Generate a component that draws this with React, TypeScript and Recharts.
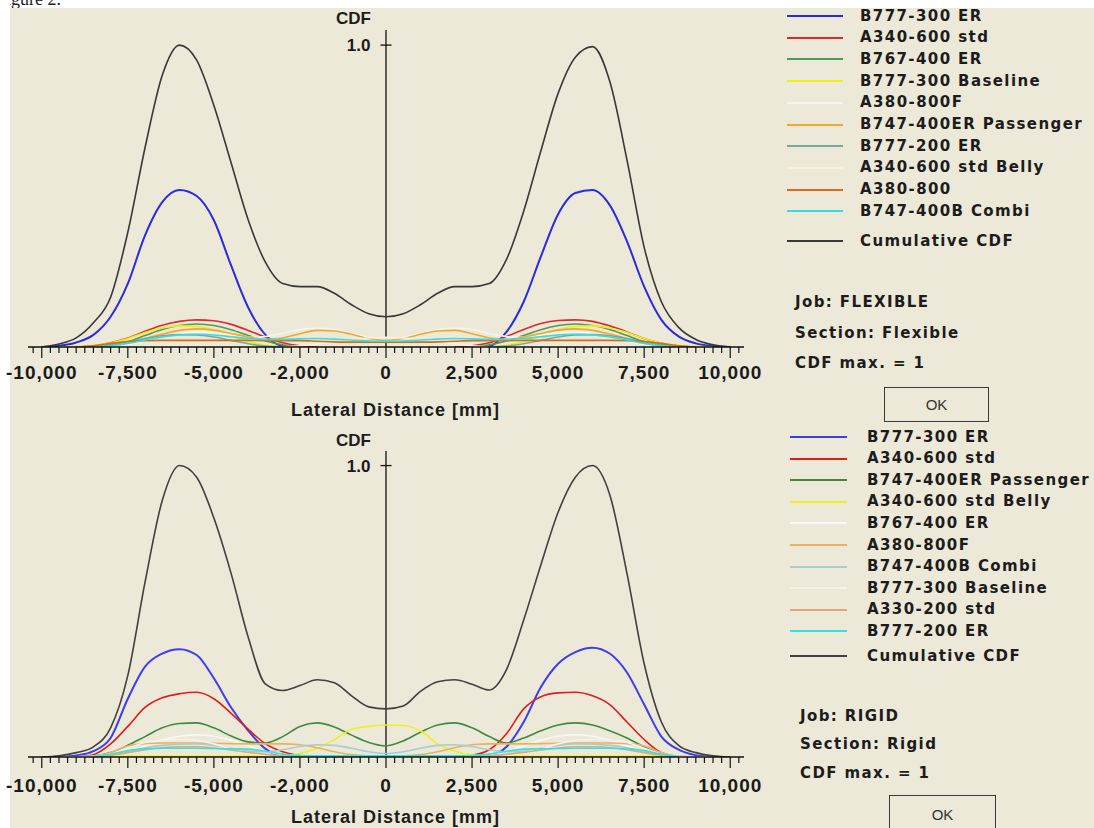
import React from 'react';
import { LineChart, Line, XAxis, YAxis, ReferenceLine } from 'recharts';

// ---------- shared axis data ----------
const distances = [
  -10000, -9500, -9000, -8500, -8000, -7500, -7000, -6500, -6000, -5500, -5000,
  -4500, -4000, -3500, -3000, -2500, -2000, -1500, -1000, -500, 0,
  500, 1000, 1500, 2000, 2500, 3000, 3500, 4000, 4500, 5000,
  5500, 6000, 6500, 7000, 7500, 8000, 8500, 9000, 9500, 10000,
];
const majorTickValues = [-10000, -7500, -5000, -2500, 0, 2500, 5000, 7500, 10000];
const majorTickLabels = ['-10,000', '-7,500', '-5,000', '-2,000', '0', '2,500', '5,000', '7,500', '10,000'];
const xDomain: [number, number] = [-10400, 10400];
const allTicks: number[] = [];
for (let t = -10250; t <= 10250; t += 250) allTicks.push(t);

// ---------- FLEXIBLE ----------
const flexNames = [
  'B777-300 ER', 'A340-600 std', 'B767-400 ER', 'B777-300 Baseline', 'A380-800F',
  'B747-400ER Passenger', 'B777-200 ER', 'A340-600 std Belly', 'A380-800', 'B747-400B Combi', 'Cumulative CDF',
];
const flexColors = [
  '#2a2ae0', '#e02828', '#4e9a5a', '#f0f010', '#f6f4ee',
  '#f0a830', '#7aa6a0', '#f8f0e4', '#d86a1c', '#30e0e0', '#383838',
];
const flexB777_300ER = [0, 0.004, 0.015, 0.04, 0.1, 0.21, 0.37, 0.48, 0.52, 0.5, 0.42, 0.27, 0.13, 0.04, 0.003, 0, null, null, null, null, null, null, null, null, null, 0, 0.003, 0.05, 0.15, 0.3, 0.44, 0.51, 0.52, 0.47, 0.35, 0.2, 0.09, 0.035, 0.012, 0.003, 0];
const flexA340_600std = [null, null, 0, 0.004, 0.014, 0.03, 0.052, 0.072, 0.085, 0.09, 0.087, 0.075, 0.055, 0.032, 0.014, 0.004, 0, null, null, null, null, null, null, null, 0, 0.004, 0.014, 0.035, 0.058, 0.078, 0.088, 0.09, 0.085, 0.07, 0.05, 0.028, 0.012, 0.003, 0, null, null];
const flexB767_400ER = [null, null, null, 0, 0.006, 0.018, 0.038, 0.058, 0.071, 0.076, 0.071, 0.057, 0.038, 0.02, 0.007, 0, null, null, null, null, null, null, null, null, null, 0, 0.007, 0.02, 0.038, 0.057, 0.071, 0.076, 0.071, 0.058, 0.038, 0.018, 0.006, 0, null, null, null];
const flexB777_300Baseline = [null, 0, 0.002, 0.005, 0.013, 0.028, 0.048, 0.063, 0.07, 0.068, 0.058, 0.038, 0.018, 0.006, 0, null, null, null, null, null, null, null, null, null, null, null, 0, 0.006, 0.018, 0.038, 0.058, 0.068, 0.07, 0.063, 0.048, 0.028, 0.013, 0.005, 0.002, 0, null];
const flexA380_800F = [null, null, null, null, 0, 0.008, 0.02, 0.035, 0.045, 0.05, 0.048, 0.04, 0.032, 0.035, 0.045, 0.058, 0.062, 0.058, 0.045, 0.032, 0.027, 0.032, 0.045, 0.058, 0.062, 0.058, 0.045, 0.035, 0.032, 0.04, 0.048, 0.05, 0.045, 0.035, 0.02, 0.008, 0, null, null, null, null];
const flexB747_400ERPassenger = [null, null, null, 0, 0.005, 0.014, 0.028, 0.043, 0.055, 0.06, 0.056, 0.045, 0.033, 0.025, 0.03, 0.044, 0.055, 0.053, 0.042, 0.028, 0.022, 0.028, 0.042, 0.053, 0.055, 0.044, 0.03, 0.025, 0.033, 0.045, 0.056, 0.06, 0.055, 0.043, 0.028, 0.014, 0.005, 0, null, null, null];
const flexB777_200ER = [null, null, 0, 0.002, 0.008, 0.017, 0.028, 0.037, 0.041, 0.04, 0.033, 0.022, 0.011, 0.003, 0, null, null, null, null, null, null, null, null, null, null, null, 0, 0.003, 0.011, 0.022, 0.033, 0.04, 0.041, 0.037, 0.028, 0.017, 0.008, 0.002, 0, null, null];
const flexA340_600Belly = [null, null, null, null, null, null, null, null, null, null, null, null, null, null, 0, 0.004, 0.01, 0.018, 0.025, 0.03, 0.032, 0.03, 0.025, 0.018, 0.01, 0.004, 0, null, null, null, null, null, null, null, null, null, null, null, null, null, null];
const flexA380_800 = [null, null, 0, 0.004, 0.012, 0.018, 0.021, 0.022, 0.022, 0.022, 0.022, 0.022, 0.022, 0.021, 0.021, 0.021, 0.019, 0.017, 0.016, 0.016, 0.016, 0.016, 0.016, 0.017, 0.019, 0.021, 0.021, 0.021, 0.022, 0.022, 0.022, 0.022, 0.022, 0.022, 0.021, 0.018, 0.012, 0.004, 0, null, null];
const flexB747_400BCombi = [null, null, null, 0, 0.004, 0.012, 0.023, 0.033, 0.04, 0.042, 0.04, 0.034, 0.028, 0.025, 0.025, 0.027, 0.028, 0.026, 0.023, 0.02, 0.019, 0.02, 0.023, 0.026, 0.028, 0.027, 0.025, 0.025, 0.028, 0.034, 0.04, 0.042, 0.04, 0.033, 0.023, 0.012, 0.004, 0, null, null, null];
const flexCumulative = [0, 0.01, 0.03, 0.08, 0.165, 0.38, 0.66, 0.9, 1.0, 0.95, 0.8, 0.61, 0.42, 0.28, 0.21, 0.2, 0.2, 0.178, 0.14, 0.11, 0.1, 0.11, 0.14, 0.178, 0.2, 0.2, 0.21, 0.29, 0.45, 0.65, 0.84, 0.96, 0.995, 0.88, 0.62, 0.33, 0.15, 0.065, 0.025, 0.007, 0];

// ---------- RIGID ----------
const rigidNames = [
  'B777-300 ER', 'A340-600 std', 'B747-400ER Passenger', 'A340-600 std Belly', 'B767-400 ER',
  'A380-800F', 'B747-400B Combi', 'B777-300 Baseline', 'A330-200 std', 'B777-200 ER', 'Cumulative CDF',
];
const rigidColors = [
  '#3c3cf0', '#e01c1c', '#3e8a3e', '#f0f020', '#f8f8f6',
  '#eeb060', '#a8ccd0', '#f6f2ea', '#e0a878', '#30e4e4', '#404040',
];
const rigidB777_300ER = [null, 0, 0.005, 0.02, 0.065, 0.2, 0.31, 0.355, 0.37, 0.35, 0.27, 0.17, 0.09, 0.028, 0.003, 0, null, null, null, null, null, null, null, null, null, 0, 0.004, 0.035, 0.12, 0.24, 0.32, 0.36, 0.375, 0.355, 0.29, 0.18, 0.07, 0.025, 0.006, 0, null];
const rigidA340_600std = [null, null, 0, 0.008, 0.045, 0.105, 0.17, 0.203, 0.217, 0.222, 0.2, 0.15, 0.095, 0.045, 0.018, 0.005, 0, null, null, null, null, null, null, null, 0, 0.006, 0.025, 0.08, 0.165, 0.207, 0.22, 0.222, 0.21, 0.18, 0.12, 0.06, 0.015, 0.002, 0, null, null];
const rigidB747_400ERPassenger = [null, null, 0, 0.003, 0.015, 0.04, 0.07, 0.1, 0.115, 0.117, 0.1, 0.072, 0.052, 0.048, 0.07, 0.105, 0.117, 0.103, 0.075, 0.05, 0.038, 0.055, 0.085, 0.11, 0.117, 0.1, 0.07, 0.048, 0.065, 0.09, 0.11, 0.117, 0.11, 0.09, 0.065, 0.035, 0.012, 0.002, 0, null, null];
const rigidA340_600Belly = [null, null, null, 0.003, 0.003, 0.003, 0.003, 0.003, 0.003, 0.003, 0.003, 0.003, 0.003, 0.003, 0.004, 0.012, 0.03, 0.06, 0.095, 0.105, 0.11, 0.108, 0.09, 0.045, 0.02, 0.008, 0.004, 0.003, 0.003, 0.003, 0.003, 0.003, 0.003, 0.003, 0.003, 0.003, 0.003, 0.003, null, null, null];
const rigidB767_400ER = [null, null, null, 0, 0.006, 0.018, 0.038, 0.058, 0.071, 0.076, 0.071, 0.057, 0.038, 0.02, 0.007, 0, null, null, null, null, null, null, null, null, null, 0, 0.007, 0.02, 0.038, 0.057, 0.071, 0.076, 0.071, 0.058, 0.038, 0.018, 0.006, 0, null, null, null];
const rigidA380_800F = [null, null, null, 0, 0.015, 0.038, 0.046, 0.048, 0.048, 0.048, 0.047, 0.046, 0.045, 0.045, 0.045, 0.042, 0.032, 0.018, 0.008, 0.004, 0.003, 0.004, 0.008, 0.018, 0.032, 0.042, 0.045, 0.045, 0.045, 0.046, 0.047, 0.048, 0.048, 0.048, 0.046, 0.038, 0.015, 0, null, null, null];
const rigidB747_400BCombi = [null, null, null, 0, 0.008, 0.02, 0.032, 0.04, 0.044, 0.045, 0.04, 0.03, 0.02, 0.018, 0.025, 0.036, 0.042, 0.04, 0.03, 0.018, 0.012, 0.018, 0.03, 0.04, 0.042, 0.036, 0.025, 0.018, 0.02, 0.03, 0.04, 0.045, 0.044, 0.04, 0.032, 0.02, 0.008, 0, null, null, null];
const rigidB777_300Baseline = [null, 0, 0.001, 0.003, 0.01, 0.03, 0.05, 0.057, 0.06, 0.057, 0.045, 0.028, 0.015, 0.005, 0, null, null, null, null, null, null, null, null, null, null, null, 0, 0.005, 0.015, 0.028, 0.045, 0.057, 0.06, 0.057, 0.05, 0.03, 0.01, 0.003, 0.001, 0, null];
const rigidA330_200std = [null, null, null, 0, 0.006, 0.015, 0.025, 0.032, 0.035, 0.035, 0.031, 0.024, 0.016, 0.009, 0.004, 0.002, 0.002, 0.002, 0.002, 0.002, 0.002, 0.002, 0.002, 0.002, 0.002, 0.002, 0.004, 0.009, 0.016, 0.024, 0.031, 0.035, 0.035, 0.032, 0.025, 0.015, 0.006, 0, null, null, null];
const rigidB777_200ER = [null, null, null, 0.002, 0.01, 0.022, 0.028, 0.03, 0.03, 0.03, 0.029, 0.028, 0.027, 0.02, 0.01, 0.005, 0.004, 0.004, 0.004, 0.004, 0.004, 0.004, 0.004, 0.004, 0.004, 0.005, 0.01, 0.02, 0.027, 0.028, 0.029, 0.03, 0.03, 0.03, 0.028, 0.022, 0.01, 0.002, null, null, null];
const rigidCumulative = [0, 0.004, 0.015, 0.035, 0.1, 0.28, 0.6, 0.88, 1.0, 0.96, 0.82, 0.63, 0.41, 0.25, 0.228, 0.245, 0.265, 0.255, 0.21, 0.172, 0.165, 0.175, 0.225, 0.258, 0.265, 0.25, 0.23, 0.3, 0.47, 0.66, 0.84, 0.96, 1.0, 0.9, 0.63, 0.32, 0.12, 0.04, 0.015, 0.004, 0];

const flexSeries = [
  flexB777_300ER, flexA340_600std, flexB767_400ER, flexB777_300Baseline, flexA380_800F,
  flexB747_400ERPassenger, flexB777_200ER, flexA340_600Belly, flexA380_800, flexB747_400BCombi, flexCumulative,
];
const rigidSeries = [
  rigidB777_300ER, rigidA340_600std, rigidB747_400ERPassenger, rigidA340_600Belly, rigidB767_400ER,
  rigidA380_800F, rigidB747_400BCombi, rigidB777_300Baseline, rigidA330_200std, rigidB777_200ER, rigidCumulative,
];

const FONT_TICK = '"Liberation Sans", Arial, sans-serif';
const FONT_UI = '"DejaVu Sans", Verdana, sans-serif';
const BG = '#ece9d8';

const buildRows = (series: (number | null)[][]) =>
  distances.map((d, i) => {
    const row: Record<string, number | null> = { x: d };
    series.forEach((arr, k) => {
      row['s' + k] = arr[i];
    });
    return row;
  });

function XTick(props: any) {
  const { x, y, payload, labelDy } = props;
  const v = payload ? (payload.value as number) : 0;
  const idx = majorTickValues.indexOf(v);
  const major = idx >= 0;
  return (
    <g>
      <line x1={x} x2={x} y1={y} y2={y + (major ? 11 : 6)} stroke="#111" strokeWidth={1.2} />
      {major && (
        <text
          x={x}
          y={y + labelDy}
          textAnchor="middle"
          fontFamily={FONT_TICK}
          fontWeight="bold"
          fontSize={19}
          letterSpacing={1}
          fill="#1a1a1a"
        >
          {majorTickLabels[idx]}
        </text>
      )}
    </g>
  );
}

function Txt(props: { x: number; y: number; size: number; family: string; bold?: boolean; spacing?: number; children: React.ReactNode; center?: boolean; w?: number }) {
  const { x, y, size, family, bold, spacing, children, center, w } = props;
  return (
    <div
      style={{
        position: 'absolute',
        left: x,
        top: y - size / 2,
        width: center ? w : undefined,
        textAlign: center ? 'center' : 'left',
        fontFamily: family,
        fontSize: size,
        lineHeight: `${size}px`,
        fontWeight: bold ? 'bold' : 'normal',
        letterSpacing: spacing ?? 0,
        color: '#1c1c1c',
        whiteSpace: 'nowrap',
      }}
    >
      {children}
    </div>
  );
}

function Legend(props: { names: string[]; colors: string[]; lineX: number; lineW: number; textX: number; y0: number; step: number; cumY: number }) {
  const { names, colors, lineX, lineW, textX, y0, step, cumY } = props;
  return (
    <>
      {names.map((n, i) => {
        const y = i === names.length - 1 ? cumY : y0 + i * step;
        return (
          <React.Fragment key={n + i}>
            <div style={{ position: 'absolute', left: lineX, top: y - 1, width: lineW, height: 2, background: colors[i] }} />
            <Txt x={textX} y={y} size={15} family={FONT_UI} bold spacing={1.4}>
              {n}
            </Txt>
          </React.Fragment>
        );
      })}
    </>
  );
}

function Chart(props: { top: number; series: (number | null)[][]; colors: string[]; plotTop: number; plotBottom: number; labelDy: number }) {
  const { top, series, colors, plotTop, plotBottom, labelDy } = props;
  const rows = buildRows(series);
  const H = 400;
  const W = 790;
  const xAxisH = 40;
  const order = series.map((_, k) => k);
  return (
    <div style={{ position: 'absolute', left: 0, top }}>
      <LineChart
        width={W}
        height={H}
        data={rows}
        margin={{ top: plotTop, right: W - 28 - 716, left: 28, bottom: H - plotBottom - xAxisH }}
      >
        <XAxis
          dataKey="x"
          type="number"
          domain={xDomain}
          allowDataOverflow
          ticks={allTicks}
          interval={0}
          tickLine={false}
          tickSize={0}
          tickMargin={0}
          height={xAxisH}
          axisLine={{ stroke: '#111', strokeWidth: 1.3 }}
          tick={(p: any) => <XTick {...p} labelDy={labelDy} />}
        />
        <YAxis hide type="number" domain={[0, 1.05]} allowDataOverflow />
        <ReferenceLine x={0} stroke="#111" strokeWidth={1.3} />
        <ReferenceLine
          segment={[{ x: -160, y: 1 }, { x: 160, y: 1 }]}
          stroke="#111"
          strokeWidth={1.3}
          label={{ value: '1.0', position: 'left', offset: 10, fill: '#1a1a1a', fontSize: 17, fontWeight: 'bold', fontFamily: FONT_TICK }}
        />
        {order.map((k) => (
          <Line
            key={k}
            type="monotone"
            dataKey={'s' + k}
            stroke={colors[k]}
            strokeWidth={k === 0 ? 2 : 1.6}
            dot={false}
            activeDot={false}
            connectNulls={false}
            isAnimationActive={false}
          />
        ))}
      </LineChart>
    </div>
  );
}

function OkButton(props: { x: number; y: number; w: number; h: number }) {
  const { x, y, w, h } = props;
  return (
    <div
      style={{
        position: 'absolute',
        left: x,
        top: y,
        width: w,
        height: h,
        boxSizing: 'border-box',
        border: '1.5px solid #3a3a3a',
        background: BG,
        display: 'flex',
        alignItems: 'center',
        justifyContent: 'center',
        fontFamily: FONT_TICK,
        fontSize: 15,
        color: '#333',
      }}
    >
      OK
    </div>
  );
}

export default function App() {
  return (
    <div style={{ position: 'absolute', left: 0, top: 0, width: 1094, height: 828, background: BG, overflow: 'hidden' }}>
      {/* white page strips */}
      <div style={{ position: 'absolute', left: 0, top: 0, width: 1094, height: 8, background: '#fff', overflow: 'hidden' }}>
        <div style={{ position: 'absolute', left: -4, top: -11, fontFamily: '"Liberation Serif", serif', fontSize: 18, color: '#222' }}>
          Figure 2.
        </div>
      </div>
      <div style={{ position: 'absolute', left: 0, top: 0, width: 10, height: 828, background: '#fff' }} />

      {/* FLEXIBLE */}
      <Chart top={0} series={flexSeries} colors={flexColors} plotTop={30} plotBottom={347} labelDy={32} />
      <Txt x={336} y={18} size={17} family={FONT_TICK} bold>CDF</Txt>
      <Txt x={291} y={410} size={18} family={FONT_TICK} bold spacing={1} center w={200}>Lateral Distance [mm]</Txt>
      <Legend names={flexNames} colors={flexColors} lineX={787} lineW={56} textX={860} y0={16} step={21.7} cumY={241} />
      <Txt x={795} y={302} size={15} family={FONT_UI} bold spacing={1.4}>Job: FLEXIBLE</Txt>
      <Txt x={795} y={333} size={15} family={FONT_UI} bold spacing={1.4}>Section: Flexible</Txt>
      <Txt x={795} y={363} size={15} family={FONT_UI} bold spacing={1.4}>CDF max. = 1</Txt>
      <OkButton x={884} y={387} w={105} h={35} />

      {/* RIGID */}
      <Chart top={420} series={rigidSeries} colors={rigidColors} plotTop={31} plotBottom={337} labelDy={35} />
      <Txt x={336} y={440} size={17} family={FONT_TICK} bold>CDF</Txt>
      <Txt x={291} y={817} size={18} family={FONT_TICK} bold spacing={1} center w={200}>Lateral Distance [mm]</Txt>
      <Legend names={rigidNames} colors={rigidColors} lineX={790} lineW={57} textX={867} y0={437} step={21.6} cumY={656} />
      <Txt x={800} y={716} size={15} family={FONT_UI} bold spacing={1.4}>Job: RIGID</Txt>
      <Txt x={800} y={744} size={15} family={FONT_UI} bold spacing={1.4}>Section: Rigid</Txt>
      <Txt x={800} y={773} size={15} family={FONT_UI} bold spacing={1.4}>CDF max. = 1</Txt>
      <OkButton x={889} y={795} w={107} h={38} />
    </div>
  );
}
